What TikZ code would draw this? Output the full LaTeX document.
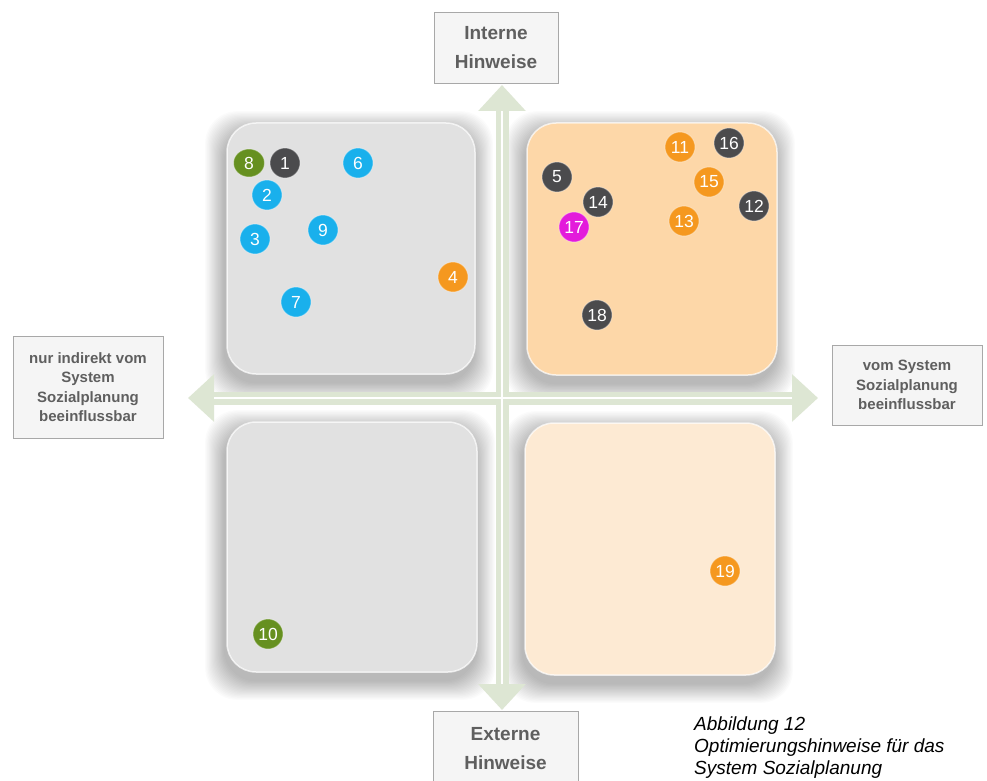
\documentclass[tikz,border=0pt]{standalone}
\usepackage{fontspec}
\setmainfont{Liberation Sans}
\usetikzlibrary{arrows.meta,shapes.geometric}
\definecolor{qgray}{HTML}{E1E1E1}
\definecolor{qorange}{HTML}{FDD7A8}
\definecolor{qlight}{HTML}{FDEAD3}
\definecolor{apale}{HTML}{DDE6D3}
\definecolor{cblue}{HTML}{19B0EC}
\definecolor{cdark}{HTML}{4B4B4D}
\definecolor{cgreen}{HTML}{669020}
\definecolor{corange}{HTML}{F5981F}
\definecolor{cmag}{HTML}{E31BDB}
\definecolor{lbltext}{HTML}{5F5F5F}
\definecolor{lblborder}{HTML}{A8A8A8}
\definecolor{lblfill}{HTML}{F5F5F5}
\newcommand\myqshadow[4]{%
  \foreach \i in {1,...,18}{%
    \fill[black,opacity=0.017,rounded corners=32pt]
      (#1-\i*1.1-2,#2-\i*1.1+8) rectangle (#3+\i*1.1-2,#4+\i*1.1+8);}}
\tikzset{
  quad/.style={rounded corners=29pt, draw=white, draw opacity=0.7, line width=1.5pt, inner sep=0pt},
  lbl/.style={draw=lblborder, fill=lblfill, text=lbltext, line width=0.9pt, align=center, inner sep=0pt,
    font=\bfseries\fontsize{15}{19.5}\selectfont},
  biglbl/.style={lbl, font=\bfseries\fontsize{19}{29}\selectfont},
  dot/.style={circle, minimum size=30pt, inner sep=0pt, text=white, draw=white, draw opacity=0.35,
    line width=1pt, font=\fontsize{17.5}{17.5}\selectfont},
  axis/.style={draw=apale, line width=13pt,
    {Triangle[width=46pt,length=26pt]}-{Triangle[width=46pt,length=26pt]}},
  axisline/.style={draw=white, line width=2.5pt},
}
\begin{document}
\begin{tikzpicture}[x=1pt,y=-1pt]
\useasboundingbox (0,0) rectangle (987,781);
\fill[white] (0,0) rectangle (987,781);

% shadows
\myqshadow{227}{123}{475}{374}
\myqshadow{527}{123}{777}{375}
\myqshadow{227}{422}{477}{672}
\myqshadow{525}{423}{775}{675}

% quadrants
\node[quad, fill=qgray,   minimum width=248pt, minimum height=251pt] (q1) at (351,248.5) {};
\node[quad, fill=qorange, minimum width=250pt, minimum height=252pt] (q2) at (652,249) {};
\node[quad, fill=qgray,   minimum width=250pt, minimum height=250pt] (q3) at (352,547) {};
\node[quad, fill=qlight,  minimum width=250pt, minimum height=252pt] (q4) at (650,549) {};

% label boxes
\node[biglbl, minimum width=124pt, minimum height=71pt] (intern) at (496,47.5) {Interne\\Hinweise};
\node[biglbl, minimum width=145pt, minimum height=75pt] (extern) at (505.5,748.5) {Externe\\Hinweise};
\node[lbl, minimum width=150pt, minimum height=102pt] (indirekt) at (88,387) {nur indirekt vom\\System\\Sozialplanung\\beeinflussbar};
\node[lbl, minimum width=150pt, minimum height=80pt] (direkt) at (907,385) {vom System\\Sozialplanung\\beeinflussbar};

% axes
\coordinate (vt) at (502,85);
\coordinate (vb) at (502,710);
\coordinate (hl) at (188,398);
\coordinate (hr) at (818,398);
\coordinate (vt2) at (502,111);
\coordinate (vb2) at (502,684);
\coordinate (hl2) at (214,398);
\coordinate (hr2) at (792,398);
\draw[axis] (vt) -- (vb);
\draw[axis] (hl) -- (hr);
\draw[axisline] (vt2) -- (vb2);
\draw[axisline] (hl2) -- (hr2);

% dots
\node[dot, ellipse, fill=cgreen, minimum width=31pt, minimum height=28pt] (n8) at (249,163) {8};
\node[dot, fill=cdark]   (n1)  at (285,163) {1};
\node[dot, fill=cblue]   (n6)  at (358,163) {6};
\node[dot, fill=cblue]   (n2)  at (267,195) {2};
\node[dot, fill=cblue]   (n3)  at (255,239) {3};
\node[dot, fill=cblue]   (n9)  at (323,230) {9};
\node[dot, fill=corange] (n4)  at (453,277) {4};
\node[dot, fill=cblue]   (n7)  at (296,302) {7};
\node[dot, fill=corange] (n11) at (680,147) {11};
\node[dot, fill=cdark]   (n16) at (729,143) {16};
\node[dot, fill=cdark]   (n5)  at (557,177) {5};
\node[dot, fill=corange] (n15) at (709,182) {15};
\node[dot, fill=cdark]   (n14) at (598,202) {14};
\node[dot, fill=cdark]   (n12) at (754,206) {12};
\node[dot, fill=cmag]    (n17) at (574,227) {17};
\node[dot, fill=corange] (n13) at (684,221) {13};
\node[dot, fill=cdark]   (n18) at (597,315) {18};
\node[dot, fill=corange] (n19) at (725,571) {19};
\node[dot, fill=cgreen]  (n10) at (268,634) {10};

% caption
\node[anchor=north west, align=left, inner sep=0pt, font=\itshape\fontsize{19}{22}\selectfont] (cap) at (694,717)
  {Abbildung 12\\Optimierungshinweise für das\\System Sozialplanung};
\end{tikzpicture}
\end{document}
